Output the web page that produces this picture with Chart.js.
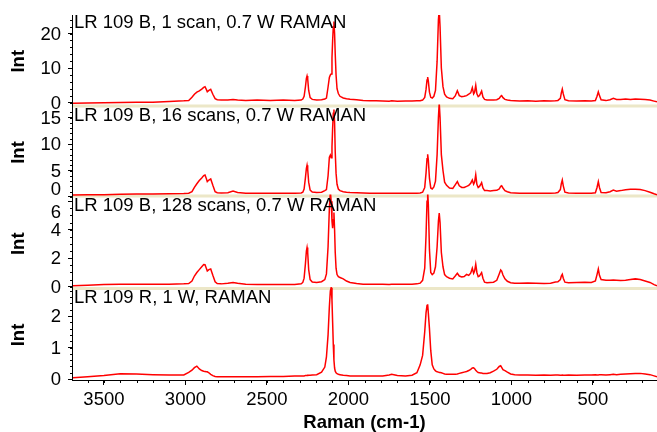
<!DOCTYPE html>
<html>
<head>
<meta charset="utf-8">
<script src="https://cdn.jsdelivr.net/npm/chart.js@4.4.1/dist/chart.umd.min.js"></script>
<style>
  html, body { margin: 0; padding: 0; background: #fff; }
  canvas { display: block; }
</style>
</head>
<body>
<canvas id="raman" width="657" height="432"></canvas>
<script>
// Raman shift grid (cm-1), shared by all four spectra
const wavenumbers = [
  3690, 3600, 3500, 3400, 3300, 3200, 3100, 3010,
  2980, 2960, 2945, 2930, 2915, 2900, 2888, 2880, 2872, 2866, 2856, 2845, 2832, 2818, 2805, 2780, 2740, 2708, 2680, 2630, 2560, 2480, 2400, 2330, 2290,
  2280, 2272, 2264, 2258, 2254, 2250, 2244, 2235, 2222, 2195, 2165, 2145,
  2135, 2125, 2117, 2111, 2106, 2101, 2097, 2093, 2089, 2085, 2081, 2076, 2070, 2062, 2052, 2032, 2012, 1990, 1950, 1910, 1870,
  1830, 1790, 1750, 1735, 1700, 1650, 1610, 1580,
  1560, 1545, 1532, 1524, 1518, 1514, 1510, 1503, 1495, 1486, 1476, 1466, 1456, 1448, 1443, 1438, 1430, 1420, 1410, 1398,
  1380, 1360, 1345, 1332, 1320, 1305, 1290, 1275, 1262, 1250, 1240, 1232, 1226, 1219, 1212, 1204, 1196, 1188, 1183, 1175, 1165, 1150, 1130, 1110, 1090, 1075, 1066, 1060, 1052, 1040, 1025, 1005,
  980, 950, 900, 850, 800, 760, 730, 715, 700, 694, 688, 682, 672, 650, 600, 550, 510, 485, 475, 467, 460, 450, 420, 395, 375, 355, 330, 300, 270, 240, 210, 180, 150, 125, 107
];

// LR 109 B, 1 scan, 0.7 W
const int1Scan = [
  -0.2, -0.15, -0.1, 0.0, 0.05, 0.1, 0.3, 0.5,
  0.6, 1.5, 2.4, 3.0, 3.4, 3.9, 4.4, 4.6, 3.8, 3.1, 3.5, 3.8, 2.4, 1.1, 0.8, 0.7, 0.75, 0.9, 0.7, 0.6, 0.75, 0.6, 0.7, 0.6, 0.7,
  1.0, 1.8, 4.5, 7.0, 7.7, 6.8, 3.5, 1.4, 0.9, 0.75, 0.8, 1.0,
  1.3, 4.5, 7.3, 8.0, 8.3, 13, 18, 22, 23.5, 20, 14, 8, 4.0, 2.6, 1.8, 1.3, 1.1, 0.95, 0.8, 0.6, 0.5,
  0.5, 0.45, 0.4, 0.5, 0.4, 0.45, 0.45, 0.5,
  0.5, 0.7, 1.5, 3.8, 6.5, 7.4, 6.3, 3.0, 1.5, 1.3, 1.8, 3.5, 12, 24, 27, 22, 10, 4.6, 2.4, 1.6,
  1.2, 1.1, 1.9, 3.4, 2.0, 1.7, 1.8, 2.0, 2.4, 2.8, 4.3, 2.5, 3.0, 5.0, 2.5, 1.7, 2.0, 2.8, 3.3, 1.6, 0.9, 0.75, 0.7, 0.75, 0.8, 1.2, 1.8, 2.0, 1.4, 0.9, 0.7, 0.55,
  0.5, 0.45, 0.5, 0.4, 0.5, 0.45, 0.5, 0.6, 1.2, 2.8, 3.9, 2.5, 0.8, 0.5, 0.45, 0.5, 0.45, 0.6, 1.8, 3.1, 2.0, 0.8, 0.55, 0.8, 1.2, 0.85, 0.9, 1.0, 0.9, 1.0, 0.95, 0.85, 0.7, 0.4, 0.2
];

// LR 109 B, 16 scans, 0.7 W
const int16Scans = [
  0.35, 0.4, 0.4, 0.5, 0.55, 0.55, 0.6, 0.65,
  0.7, 1.0, 1.8, 2.5, 3.1, 3.6, 4.05, 4.15, 3.5, 2.9, 3.2, 3.4, 2.2, 1.0, 0.8, 0.75, 0.8, 1.1, 0.85, 0.7, 0.7, 0.7, 0.7, 0.7, 0.75,
  0.9, 1.5, 3.6, 5.4, 6.0, 5.2, 2.8, 1.3, 0.95, 0.85, 0.9, 1.2,
  1.4, 4.0, 7.5, 7.9, 7.4, 9.5, 13, 15.8, 16.5, 14, 8.5, 4.5, 2.4, 1.5, 1.2, 1.0, 0.9, 0.85, 0.8, 0.75, 0.72,
  0.7, 0.7, 0.7, 0.72, 0.7, 0.7, 0.7, 0.72,
  0.75, 0.9, 1.8, 4.5, 7.2, 8.05, 7.0, 3.5, 1.7, 1.5, 1.9, 3.0, 8, 15, 17.8, 15, 8, 5.0, 2.8, 2.2,
  1.7, 1.6, 2.3, 2.9, 2.1, 1.8, 1.8, 2.0, 2.2, 2.6, 3.2, 2.4, 2.8, 4.2, 2.4, 1.8, 2.0, 2.4, 2.7, 1.7, 1.2, 1.2, 1.15, 1.2, 1.25, 1.5, 2.0, 2.1, 1.7, 1.2, 1.0, 0.8,
  0.75, 0.7, 0.7, 0.7, 0.7, 0.7, 0.75, 0.85, 1.4, 2.5, 3.2, 2.1, 0.9, 0.75, 0.7, 0.7, 0.7, 0.8, 1.8, 2.9, 1.8, 0.85, 0.8, 1.0, 1.3, 1.1, 1.2, 1.35, 1.45, 1.45, 1.4, 1.2, 0.9, 0.6, 0.4
];

// LR 109 B, 128 scans, 0.7 W
const int128Scans = [
  0.07, 0.1, 0.15, 0.18, 0.18, 0.17, 0.17, 0.2,
  0.22, 0.4, 0.75, 1.0, 1.2, 1.4, 1.56, 1.55, 1.3, 1.1, 1.2, 1.25, 0.8, 0.35, 0.22, 0.2, 0.25, 0.3, 0.25, 0.18, 0.15, 0.15, 0.15, 0.16, 0.2,
  0.3, 0.6, 1.6, 2.5, 2.75, 2.4, 1.2, 0.5, 0.33, 0.3, 0.35, 0.5,
  0.9, 2.8, 5.5, 6.7, 6.0, 4.6, 4.1, 4.7, 5.2, 4.0, 2.4, 1.3, 0.85, 0.7, 0.65, 0.55, 0.4, 0.3, 0.22, 0.18, 0.17,
  0.17, 0.17, 0.16, 0.17, 0.17, 0.17, 0.18, 0.2,
  0.25, 0.45, 1.3, 3.6, 6.0, 6.7, 5.8, 2.6, 1.0, 0.85, 0.95, 1.4, 2.8, 4.6, 5.17, 4.5, 2.4, 1.4, 0.85, 0.7,
  0.6, 0.55, 0.75, 0.94, 0.75, 0.68, 0.72, 0.87, 0.8, 0.95, 1.3, 0.95, 1.1, 1.58, 1.0, 0.7, 0.75, 0.9, 0.99, 0.6, 0.32, 0.28, 0.3, 0.32, 0.45, 0.9, 1.18, 1.1, 0.82, 0.55, 0.38, 0.28,
  0.25, 0.24, 0.26, 0.25, 0.22, 0.25, 0.33, 0.35, 0.5, 0.75, 0.87, 0.6, 0.32, 0.28, 0.3, 0.32, 0.3, 0.4, 0.85, 1.25, 0.8, 0.5, 0.45, 0.45, 0.47, 0.45, 0.43, 0.45, 0.5, 0.55, 0.5, 0.4, 0.3, 0.15, 0.07
];

// LR 109 R, 1 W
const int1W = [
  0.04, 0.07, 0.11, 0.17, 0.16, 0.14, 0.13, 0.13,
  0.21, 0.28, 0.36, 0.41, 0.32, 0.27, 0.25, 0.24, 0.23, 0.23, 0.2, 0.15, 0.11, 0.08, 0.07, 0.07, 0.07, 0.07, 0.07, 0.07, 0.07, 0.08, 0.08, 0.1, 0.1,
  0.1, 0.1, 0.11, 0.11, 0.11, 0.12, 0.12, 0.12, 0.13, 0.14, 0.22, 0.38,
  0.7, 1.4, 2.3, 2.8, 2.9, 2.5, 1.8, 1.1, 0.6, 0.35, 0.25, 0.2, 0.17, 0.15, 0.14, 0.12, 0.11, 0.1, 0.1, 0.1, 0.1,
  0.1, 0.1, 0.13, 0.15, 0.11, 0.1, 0.12, 0.2,
  0.45, 0.75, 1.5, 2.1, 2.33, 2.37, 2.1, 1.6, 0.9, 0.45, 0.32, 0.26, 0.23, 0.22, 0.21, 0.21, 0.2, 0.18, 0.16, 0.15,
  0.15, 0.15, 0.15, 0.16, 0.18, 0.2, 0.22, 0.24, 0.27, 0.31, 0.35, 0.36, 0.33, 0.28, 0.24, 0.21, 0.2, 0.19, 0.19, 0.18, 0.18, 0.18, 0.2, 0.25, 0.31, 0.4, 0.42, 0.37, 0.3, 0.27, 0.22, 0.16,
  0.14, 0.13, 0.13, 0.12, 0.13, 0.12, 0.13, 0.13, 0.12, 0.12, 0.13, 0.12, 0.12, 0.13, 0.12, 0.13, 0.13, 0.14, 0.13, 0.13, 0.14, 0.14, 0.13, 0.14, 0.15, 0.14, 0.15, 0.16, 0.17, 0.18, 0.18, 0.16, 0.14, 0.1, 0.07
];

const panelTitles = [
  'LR 109 B, 1 scan, 0.7 W RAMAN',
  'LR 109 B, 16 scans, 0.7 W RAMAN',
  'LR 109 B, 128 scans, 0.7 W RAMAN',
  'LR 109 R, 1 W, RAMAN'
];

// tick values
const xTickValues = [500, 1000, 1500, 2000, 2500, 3000, 3500];
const yTicks1Scan = [0, 10, 20];
const yTicks16Scans = [0, 5, 10, 15];
const yTicks128Scans = [0, 2, 4, 6];
const yTicks1W = [0, 1, 2];

const FONT = '"Liberation Sans", Arial, Helvetica, sans-serif';
const FONT_SIZE = 18.5;
const LINE_RED = '#ff0000';
const BAND = '#ece7c8';
const AXIS_W = 72;

// panels, top to bottom; a 3px band at the bottom of each upper panel separates it
const panels = [
  { id: 'y1',   values: int1Scan,    ticks: yTicks1Scan,    min: -1.45, max: 25.4,  minor: 2,   weight: 92.5, band: true,  labelShift: {} },
  { id: 'y16',  values: int16Scans,  ticks: yTicks16Scans,  min: -0.1,  max: 16.9,  minor: 1,   weight: 90,   band: true,  labelShift: { 0: -8 } },
  { id: 'y128', values: int128Scans, ticks: yTicks128Scans, min: -0.23, max: 6.26,  minor: 0.5, weight: 92.5, band: true,  labelShift: { 6: 11 } },
  { id: 'yR',   values: int1W,       ticks: yTicks1W,       min: -0.03, max: 2.825, minor: 0.2, weight: 90,   band: false, labelShift: {} }
];

Chart.defaults.font.family = FONT;
Chart.defaults.font.size = FONT_SIZE;
Chart.defaults.color = '#000';

const scales = {
  x: {
    type: 'linear',
    reverse: true,
    min: 107,
    max: 3696,
    afterBuildTicks: (s) => { s.ticks = xTickValues.map(v => ({ value: v })); },
    afterFit: (s) => { s.height = 52; },
    ticks: { color: '#000', padding: 4, maxRotation: 0, autoSkip: false, font: { size: FONT_SIZE }, callback: (v) => String(v) },
    grid: { drawOnChartArea: false, drawTicks: true, tickLength: 5, tickColor: '#000', tickWidth: 1 },
    border: { display: true, color: '#000', width: 1 },
    title: { display: true, text: 'Raman (cm-1)', color: '#000', font: { size: FONT_SIZE, weight: 'bold' }, padding: { top: 0, bottom: -2 } }
  }
};

// stacked axes are placed top-down from the last defined one, so add them bottom first
[...panels].reverse().forEach(p => {
  scales[p.id] = {
    type: 'linear',
    position: 'left',
    stack: 'spectra',
    stackWeight: p.weight,
    min: p.min,
    max: p.max,
    afterBuildTicks: (s) => { s.ticks = p.ticks.map(v => ({ value: v })); },
    afterFit: (s) => { s.width = AXIS_W; },
    ticks: { display: false },
    grid: { drawOnChartArea: false, drawTicks: true, tickLength: 4, tickColor: '#000', tickWidth: 1 },
    border: { display: true, color: '#000', width: 1 },
    title: { display: true, text: 'Int', color: '#000', font: { size: FONT_SIZE, weight: 'bold' }, padding: { top: 8, bottom: 0 } }
  };
});

const datasets = panels.map((p, i) => ({
  label: panelTitles[i],
  data: wavenumbers.map((w, k) => ({ x: w, y: p.values[k] })),
  yAxisID: p.id,
  borderColor: LINE_RED,
  borderWidth: 1.5,
  pointRadius: 0,
  fill: false,
  tension: 0,
  clip: { left: 0, right: 0, bottom: 0, top: i === 0 ? 0 : 3 }
}));

// separator bands, minor ticks, edge-aware y labels and panel captions
const panelDecor = {
  id: 'panelDecor',
  beforeDatasetsDraw(chart) {
    const { ctx, chartArea } = chart;
    ctx.save();
    ctx.fillStyle = BAND;
    panels.forEach(p => {
      if (!p.band) return;
      const s = chart.scales[p.id];
      ctx.fillRect(chartArea.left + 1, s.bottom - 3, chartArea.right - chartArea.left - 1, 3);
    });
    ctx.restore();
  },
  afterDraw(chart) {
    const { ctx, chartArea } = chart;
    ctx.save();
    ctx.strokeStyle = '#000';
    ctx.lineWidth = 1;
    ctx.beginPath();
    panels.forEach(p => {
      const s = chart.scales[p.id];
      const start = Math.ceil(s.min / p.minor - 1e-9);
      for (let k = start; k * p.minor <= s.max + 1e-9; k++) {
        const y = Math.round(s.getPixelForValue(k * p.minor)) + 0.5;
        ctx.moveTo(chartArea.left - 2, y);
        ctx.lineTo(chartArea.left, y);
      }
    });
    const xs = chart.scales.x;
    for (let v = 200; v <= 3600; v += 100) {
      const x = Math.round(xs.getPixelForValue(v)) + 0.5;
      ctx.moveTo(x, chartArea.bottom);
      ctx.lineTo(x, chartArea.bottom + 3);
    }
    ctx.stroke();

    ctx.fillStyle = '#000';
    ctx.font = FONT_SIZE + 'px ' + FONT;
    ctx.textAlign = 'right';
    ctx.textBaseline = 'middle';
    panels.forEach(p => {
      const s = chart.scales[p.id];
      p.ticks.forEach(v => {
        const y = s.getPixelForValue(v) + 1 + (p.labelShift[v] || 0);
        ctx.fillText(String(v), chartArea.left - 11, y);
      });
    });

    ctx.textAlign = 'left';
    ctx.textBaseline = 'alphabetic';
    panels.forEach((p, i) => {
      const s = chart.scales[p.id];
      ctx.fillText(panelTitles[i], chartArea.left + 2, s.top + 13);
    });
    ctx.restore();
  }
};

new Chart(document.getElementById('raman'), {
  type: 'line',
  data: { datasets },
  options: {
    responsive: false,
    animation: false,
    devicePixelRatio: 1,
    events: [],
    layout: { padding: { top: 15, left: 0, right: 0, bottom: 0 } },
    plugins: { legend: { display: false }, tooltip: { enabled: false }, title: { display: false } },
    scales
  },
  plugins: [panelDecor]
});
</script>
</body>
</html>
